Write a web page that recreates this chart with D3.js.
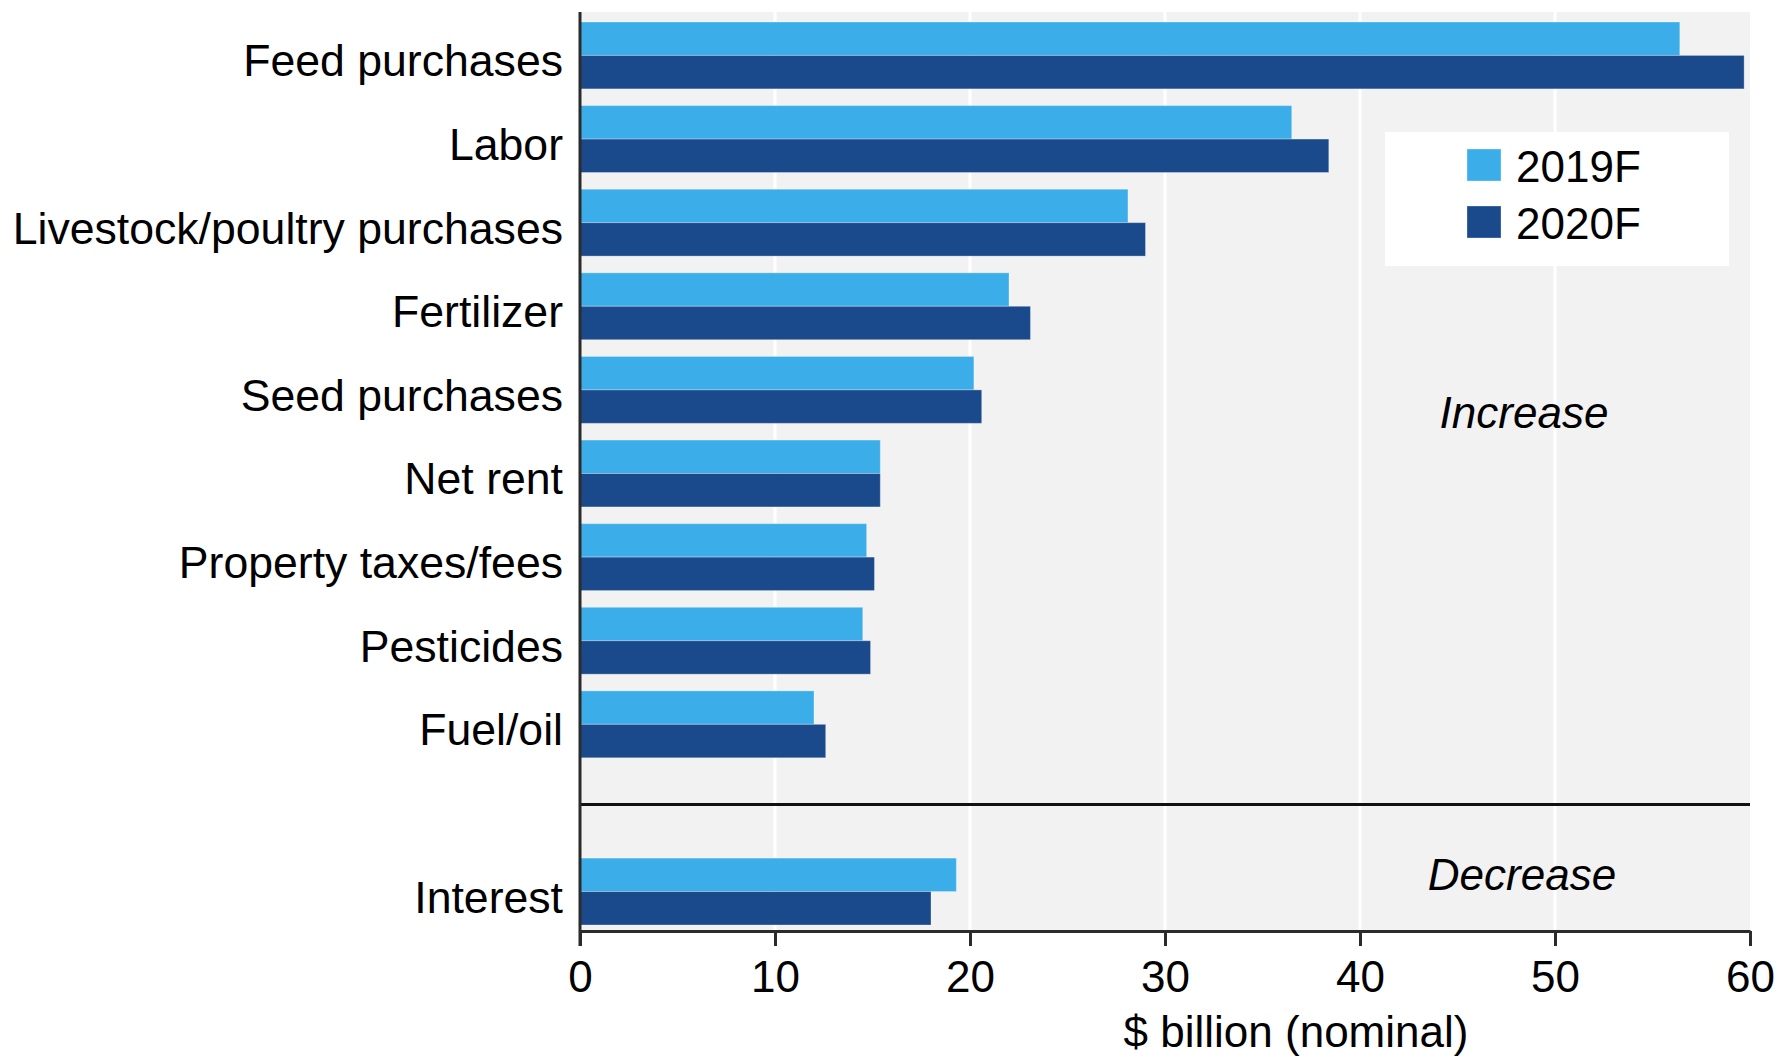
<!DOCTYPE html>
<html>
<head>
<meta charset="utf-8">
<script src="https://cdn.jsdelivr.net/npm/d3@7"></script>
<style>
  html, body { margin: 0; padding: 0; background: #ffffff; }
  svg { display: block; font-family: "Liberation Sans", Arial, sans-serif; }
</style>
</head>
<body>
<svg id="chart" width="1783" height="1059"></svg>
<script>
// ---- Data ----
const categories = ["Feed purchases", "Labor", "Livestock/poultry purchases", "Fertilizer",
  "Seed purchases", "Net rent", "Property taxes/fees", "Pesticides", "Fuel/oil", "Interest"];
const values2019 = [56.4, 36.5, 28.1, 22.0, 20.2, 15.4, 14.7, 14.5, 12.0, 19.3];
const values2020 = [59.7, 38.4, 29.0, 23.1, 20.6, 15.4, 15.1, 14.9, 12.6, 18.0];
const seriesNames = ["2019F", "2020F"];
const increaseCats = categories.slice(0, 9);
const decreaseCats = ["Interest"];
const xTicks = [0, 10, 20, 30, 40, 50, 60];
const xTitle = "$ billion (nominal)";

// ---- Layout ----
const W = 1783, H = 1059;
const plotLeft = 580, plotRight = 1750, plotTop = 12, plotBottom = 931;
const colors = { "2019F": "#3BAEEA", "2020F": "#1A4A8C" };
const fontSize = 44;

const svg = d3.select("#chart");

const x = d3.scaleLinear().domain([0, 60]).range([plotLeft, plotRight]);
const slots = [...increaseCats, "__gap", ...decreaseCats];
const y = d3.scaleBand().domain(slots).range([22, 925]).paddingInner(0.2).paddingOuter(0);
const ySub = d3.scaleBand().domain(seriesNames).range([0, y.bandwidth()]).padding(0);

// background
svg.append("rect")
  .attr("x", plotLeft).attr("y", plotTop)
  .attr("width", plotRight - plotLeft).attr("height", plotBottom - plotTop)
  .attr("fill", "#F2F2F2");

// grid lines
svg.append("g").selectAll("line")
  .data(xTicks.filter(t => t > 0 && t < 60))
  .join("line")
  .attr("x1", d => x(d)).attr("x2", d => x(d))
  .attr("y1", plotTop).attr("y2", plotBottom)
  .attr("stroke", "#ffffff").attr("stroke-width", 3);

// bars
const rows = categories.map((c, i) => ({ cat: c, vals: [values2019[i], values2020[i]] }));
const g = svg.append("g");
rows.forEach(r => {
  seriesNames.forEach((s, j) => {
    g.append("rect")
      .attr("x", x(0))
      .attr("y", y(r.cat) + ySub(s))
      .attr("width", x(r.vals[j]) - x(0))
      .attr("height", ySub.bandwidth())
      .attr("fill", colors[s])
      .attr("stroke", "rgba(255,255,255,0.3)")
      .attr("stroke-width", 1);
  });
});

// separator between increase and decrease
const sepY = y("__gap") + y.bandwidth() * 0.45;
svg.append("line")
  .attr("x1", plotLeft).attr("x2", plotRight)
  .attr("y1", sepY).attr("y2", sepY)
  .attr("stroke", "#111").attr("stroke-width", 3);

// category labels
svg.append("g").selectAll("text")
  .data(categories)
  .join("text")
  .attr("x", 563)
  .attr("y", d => y(d) + y.bandwidth() / 2)
  .attr("dy", "0.47em")
  .attr("text-anchor", "end")
  .attr("font-size", 44.6)
  .attr("fill", "#000")
  .text(d => d);

// x axis
const xAxis = d3.axisBottom(x).tickValues(xTicks).tickSizeInner(15).tickSizeOuter(0).tickFormat(d3.format("d"));
const ax = svg.append("g").attr("transform", `translate(0,${plotBottom})`).call(xAxis);
ax.select(".domain").attr("stroke", "#2b2b2b").attr("stroke-width", 3);
ax.selectAll(".tick line").attr("stroke", "#2b2b2b").attr("stroke-width", 3);
ax.selectAll(".tick text")
  .attr("y", 61).attr("dy", 0)
  .attr("font-size", fontSize)
  .attr("font-family", "Liberation Sans, Arial, sans-serif")
  .attr("fill", "#000");

// left axis line
svg.append("line")
  .attr("x1", plotLeft).attr("x2", plotLeft)
  .attr("y1", plotTop).attr("y2", plotBottom + 15)
  .attr("stroke", "#2b2b2b").attr("stroke-width", 3);

// axis title
svg.append("text")
  .attr("x", 1296).attr("y", 1047)
  .attr("text-anchor", "middle")
  .attr("font-size", fontSize)
  .attr("fill", "#000")
  .text(xTitle);

// Increase / Decrease annotations
svg.append("text")
  .attr("x", 1524).attr("y", 428)
  .attr("text-anchor", "middle")
  .attr("font-size", fontSize).attr("font-style", "italic")
  .text("Increase");
svg.append("text")
  .attr("x", 1522).attr("y", 890)
  .attr("text-anchor", "middle")
  .attr("font-size", fontSize).attr("font-style", "italic")
  .text("Decrease");

// legend
const lg = svg.append("g");
lg.append("rect")
  .attr("x", 1385).attr("y", 132).attr("width", 344).attr("height", 134)
  .attr("fill", "#ffffff");
seriesNames.forEach((s, i) => {
  lg.append("rect")
    .attr("x", 1467).attr("y", 149 + i * 57)
    .attr("width", 34).attr("height", 32)
    .attr("fill", colors[s])
    .attr("stroke", "rgba(255,255,255,0.3)").attr("stroke-width", 1);
  lg.append("text")
    .attr("x", 1516).attr("y", 182 + i * 57)
    .attr("font-size", fontSize)
    .attr("fill", "#000")
    .text(s);
});
</script>
</body>
</html>
